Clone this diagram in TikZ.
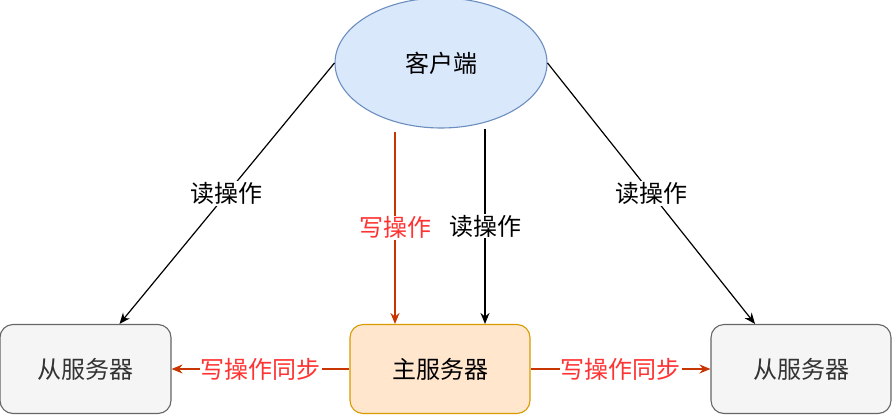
\documentclass[tikz,border=0pt]{standalone}
\usepackage{fontspec}
\setmainfont{Noto Sans CJK SC}
\usetikzlibrary{shapes.geometric,arrows.meta}
\definecolor{cliFill}{HTML}{DAE8FC}
\definecolor{cliLine}{HTML}{6C8EBF}
\definecolor{mFill}{HTML}{FFE6CC}
\definecolor{mLine}{HTML}{D79B00}
\definecolor{sFill}{HTML}{F5F5F5}
\definecolor{sLine}{HTML}{666666}
\definecolor{sText}{HTML}{333333}
\definecolor{wLine}{HTML}{C73500}
\definecolor{wText}{HTML}{FF3333}

\begin{document}
\begin{tikzpicture}[x=1pt,y=-1pt,font=\fontsize{24}{28}\selectfont,
    box/.style={draw,rounded corners=13pt,line width=1.1pt,minimum height=89pt,inner sep=0pt},
    rd/.style={-{Stealth[length=11pt,width=9pt]},line width=1.2pt},
    wr/.style={-{Stealth[length=11pt,width=9pt]},line width=1.2pt,wLine},
    lbl/.style={fill=white,inner sep=1pt}]
    \useasboundingbox(0,0)rectangle(893,415);
    \node[ellipse,draw=cliLine,fill=cliFill,line width=1.1pt,minimum width=212pt,minimum height=130pt](cli)at(441,63){客户端};
    \node[box,draw=mLine,fill=mFill,minimum width=180pt](master)at(440,369){主服务器};
    \node[box,draw=sLine,fill=sFill,text=sText,minimum width=171pt](slaveL)at(85.5,369){从服务器};
    \node[box,draw=sLine,fill=sFill,text=sText,minimum width=180pt](slaveR)at(801,369){从服务器};

    \draw[rd](cli.west)--([xshift=34pt]slaveL.north)node[lbl,midway]{读操作};
    \draw[rd](cli.east)--([xshift=-46pt]slaveR.north)node[lbl,midway]{读操作};
    \draw[wr]([xshift=-46pt,yshift=-3pt]cli.south)--([xshift=-45pt]master.north)node[lbl,midway,text=wText]{写操作};
    \draw[rd]([xshift=44pt]cli.south)--([xshift=45pt]master.north)node[lbl,midway]{读操作};

    \draw[wr](master.west)--(slaveL.east)node[lbl,midway,text=wText]{写操作同步};
    \draw[wr](master.east)--(slaveR.west)node[lbl,midway,text=wText]{写操作同步};
\end{tikzpicture}
\end{document}
